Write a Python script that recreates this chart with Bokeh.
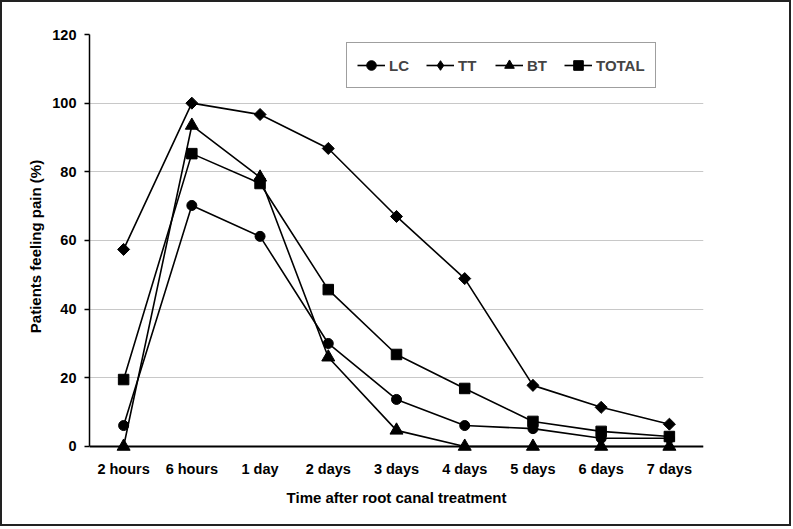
import numpy as np
from bokeh.plotting import figure
from bokeh.models import FactorRange, Range1d, Legend, LegendItem, SingleIntervalTicker, Span
from bokeh.embed import file_html
from bokeh.resources import INLINE

categories = ["2 hours", "6 hours", "1 day", "2 days", "3 days", "4 days", "5 days", "6 days", "7 days"]
lc = [6.1, 70.2, 61.2, 30.0, 13.7, 6.1, 5.2, 2.4, 2.4]
tt = [57.4, 100.0, 96.7, 86.8, 67.0, 48.9, 17.8, 11.4, 6.5]
bt = [0.0, 93.5, 78.4, 26.0, 4.7, 0.0, 0.0, 0.0, 0.0]
total = [19.5, 85.3, 76.6, 45.7, 26.8, 16.9, 7.3, 4.4, 2.9]

FONT = "Liberation Sans"

p = figure(x_range=FactorRange(*categories, range_padding=0), y_range=Range1d(-3.5, 120),
           frame_width=614, frame_height=424,
           min_border_left=87, min_border_right=86, min_border_top=32, min_border_bottom=66,
           output_backend="svg", toolbar_location=None)
p.styles = {"border": "2px solid #222222"}
p.outline_line_color = None
p.background_fill_color = "white"

p.xgrid.grid_line_color = None
p.ygrid.grid_line_color = "#c8c8c8"
p.ygrid.grid_line_width = 1
p.yaxis.ticker = SingleIntervalTicker(interval=20)
p.yaxis.bounds = (0, 120)

for ax in (p.xaxis[0], p.yaxis[0]):
    ax.major_label_text_font = FONT
    ax.major_label_text_font_style = "bold"
    ax.major_label_text_font_size = "14.5px"
    ax.major_label_text_color = "black"
    ax.axis_label_text_font = FONT
    ax.axis_label_text_font_style = "bold"
    ax.axis_label_text_font_size = "15px"
    ax.axis_label_text_color = "black"
    ax.axis_line_color = "black"
    ax.minor_tick_line_color = None

# category axis sits at the frame bottom; its visible line is drawn at y = 0
p.xaxis.axis_label = "Time after root canal treatment"
p.xaxis.axis_line_color = None
p.xaxis.major_tick_line_color = None
p.xaxis.major_label_standoff = -4
p.xaxis.axis_label_standoff = 9
p.add_layout(Span(location=0, dimension="width", line_color="black", line_width=2, level="underlay"))

p.yaxis.axis_label = "Patients feeling pain (%)"
p.yaxis.axis_line_width = 1.5
p.yaxis.major_tick_in = 0
p.yaxis.major_tick_out = 5
p.yaxis.major_tick_line_color = "black"
p.yaxis.major_tick_line_width = 1.5
p.yaxis.major_label_standoff = 8
p.yaxis.axis_label_standoff = 5

series = [
    ("LC", lc, dict(marker="circle", size=10), dict(marker="circle", size=10)),
    ("TT", tt, dict(marker="square", size=8.5, angle=np.pi / 4), dict(marker="diamond", size=12)),
    ("BT", bt, dict(marker="triangle", size=13), dict(marker="triangle", size=13)),
    ("TOTAL", total, dict(marker="square", size=10.5), dict(marker="square", size=10.5)),
]

items = []
for name, vals, mk, lmk in series:
    l = p.line(categories, vals, line_color="black", line_width=1.6)
    s = p.scatter(categories, vals, fill_color="black", line_color="black", **mk)
    # legend swatch marker, placed far outside the visible y range
    lg = p.scatter([categories[0]], [-100], fill_color="black", line_color="black", **lmk)
    items.append(LegendItem(label=name, renderers=[l, lg]))

legend = Legend(items=items, orientation="horizontal", location=(257, 370),
                label_text_font=FONT, label_text_font_style="bold", label_text_font_size="15px",
                glyph_width=28, glyph_height=24, spacing=17, label_standoff=4,
                padding=10, margin=0,
                border_line_color="#404040", border_line_width=1.5,
                background_fill_color="white", background_fill_alpha=1)
p.add_layout(legend, "center")

open("out.html", "w").write(file_html(p, INLINE))
